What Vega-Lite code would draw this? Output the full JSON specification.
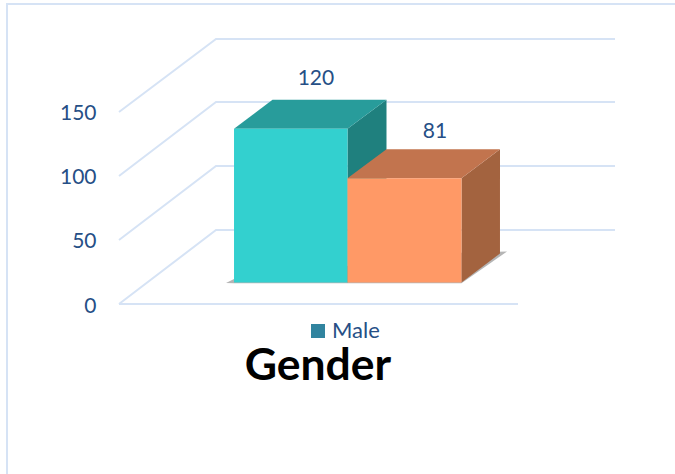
{"$schema":"https://vega.github.io/schema/vega-lite/v6.json","width":496,"height":265,"autosize":"none","padding":{"left":119,"top":39,"right":60,"bottom":170},"background":"white",
"config":{"view":{"stroke":null}},
"layer":[
{"data":{"values":[
{"line":"frame","x":-22.58,"y":-132.8,"step":1},{"line":"frame","x":-22.58,"y":234.4,"step":2},{"line":"frame","x":112.1,"y":234.4,"step":3},
{"line":"floor","x":0,"y":0,"step":1},{"line":"floor","x":80.44,"y":0,"step":2},
{"line":"g0","x":0,"y":0,"step":1},{"line":"g0","x":19.56,"y":57.8,"step":2},{"line":"g0","x":100,"y":57.8,"step":3},
{"line":"g50","x":0,"y":50,"step":1},{"line":"g50","x":19.56,"y":107.8,"step":2},{"line":"g50","x":100,"y":107.8,"step":3},
{"line":"g100","x":0,"y":100,"step":1},{"line":"g100","x":19.56,"y":157.8,"step":2},{"line":"g100","x":100,"y":157.8,"step":3},
{"line":"g150","x":0,"y":150,"step":1},{"line":"g150","x":19.56,"y":207,"step":2},{"line":"g150","x":100,"y":207,"step":3}
]},
"mark":{"type":"line","color":"#D6E3F5","strokeWidth":2,"clip":false},
"encoding":{"x":{"field":"x","type":"quantitative","scale":{"domain":[0,100],"nice":false,"zero":false},"axis":null},
"y":{"field":"y","type":"quantitative","scale":{"domain":[0,207],"nice":false,"zero":false},"axis":{"values":[0,50,100,150],"title":null,"domain":false,"ticks":false,"grid":false,"labelPadding":23,"labelOffset":2,"labelFont":"Lato","labelFontSize":21,"labelColor":"#264F86"}},
"detail":{"field":"line"},"order":{"field":"step","type":"quantitative"}}},
{"data":{"values":[
{"face":"shadow","x":21.57,"y":16.4,"y2":16.4},{"face":"shadow","x":23.19,"y":19.5,"y2":16.2},{"face":"shadow","x":69.05,"y":40,"y2":16.2},{"face":"shadow","x":78.23,"y":41,"y2":41},
{"face":"male side","x":46.07,"y":136.8,"y2":16.8},{"face":"male side","x":53.93,"y":159.45,"y2":39.45},
{"face":"male top","x":23.19,"y":136.8,"y2":136.8},{"face":"male top","x":30.95,"y":159.45,"y2":136.8},{"face":"male top","x":46.07,"y":159.45,"y2":136.8},{"face":"male top","x":53.93,"y":159.45,"y2":159.45},
{"face":"male front","x":23.19,"y":136.8,"y2":16.8},{"face":"male front","x":46.07,"y":136.8,"y2":16.8},
{"face":"female side","x":69.05,"y":98.2,"y2":16.8},{"face":"female side","x":76.81,"y":120.85,"y2":39.45},
{"face":"female top","x":46.07,"y":98.2,"y2":98.2},{"face":"female top","x":53.93,"y":120.85,"y2":98.2},{"face":"female top","x":69.05,"y":120.85,"y2":98.2},{"face":"female top","x":76.81,"y":120.85,"y2":120.85},
{"face":"female front","x":46.07,"y":98.2,"y2":16.8},{"face":"female front","x":69.05,"y":98.2,"y2":16.8}
]},
"mark":{"type":"area","clip":false,"interpolate":"linear","orient":"vertical"},
"encoding":{"x":{"field":"x","type":"quantitative"},"y":{"field":"y","type":"quantitative"},"y2":{"field":"y2"},
"fill":{"field":"face","type":"nominal","legend":null,"scale":{"domain":["shadow","male side","male top","male front","female side","female top","female front"],"range":["#B5B5B5","#1F807E","#289C9B","#33D0CF","#A3633F","#C2744E","#FF9966"]}}}},
{"data":{"values":[{"value":120,"x":39.7,"y":176.0},{"value":81,"x":63.7,"y":134.6}]},
"mark":{"type":"text","font":"Lato","fontSize":21,"color":"#264F86","align":"center","baseline":"middle"},
"encoding":{"x":{"field":"x","type":"quantitative"},"y":{"field":"y","type":"quantitative"},"text":{"field":"value","type":"quantitative"}}},
{"data":{"values":[{"label":"Gender","x":40.1,"y":-49.5}]},
"mark":{"type":"text","font":"Lato","fontSize":44.5,"fontWeight":"bold","color":"#000000","align":"center","baseline":"middle"},
"encoding":{"x":{"field":"x","type":"quantitative"},"y":{"field":"y","type":"quantitative"},"text":{"field":"label","type":"nominal"}}},
{"data":{"values":[{"series":"Male","x":39.7,"y":176.6}]},
"mark":{"type":"point","shape":"square","filled":true,"opacity":0},
"encoding":{"x":{"field":"x","type":"quantitative"},"y":{"field":"y","type":"quantitative"},
"color":{"field":"series","type":"nominal","scale":{"domain":["Male"],"range":["#31849F"]},
"legend":{"title":null,"orient":"none","legendX":188,"legendY":281,"symbolType":"square","symbolSize":196,"symbolOpacity":1,"labelFont":"Lato","labelFontSize":22,"labelColor":"#264F86","labelOffset":3}}}}
]}
